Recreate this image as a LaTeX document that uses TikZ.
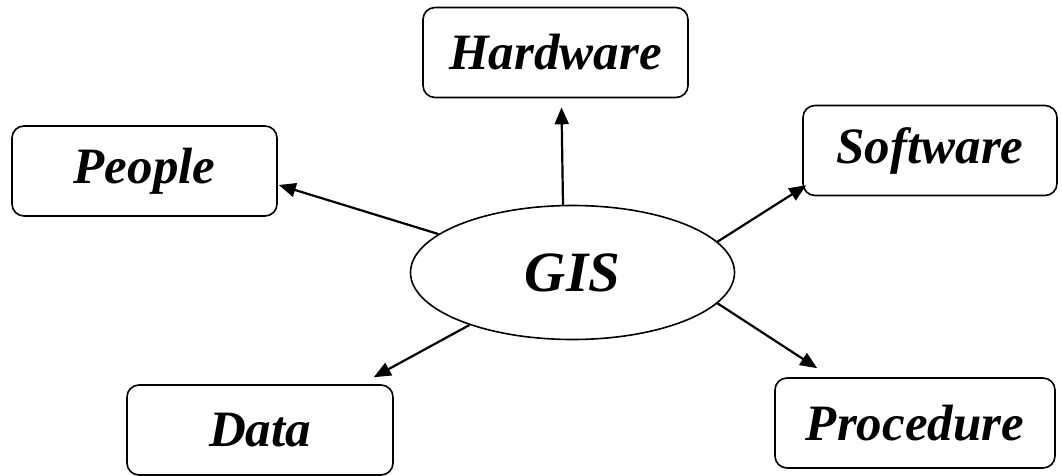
\documentclass[tikz,border=0pt]{standalone}
\usepackage{fontspec}
\setmainfont{Liberation Serif}
\usetikzlibrary{calc,arrows.meta,shapes.geometric}
\begin{document}
\begin{tikzpicture}[x=1pt,y=-1pt,
  box/.style={draw,line width=1.6pt,rounded corners=12pt,minimum height=90pt,inner sep=0pt,
    font=\fontsize{51}{55}\selectfont\bfseries\itshape},
  conn/.style={line width=2.2pt,-{Triangle[length=17pt,width=14pt]}}]
\useasboundingbox (0,0) rectangle (1062,476);
\node[box,minimum width=265pt] (hardware) at (555.5,52.5) {Hardware};
\node[box,minimum width=265pt] (people) at (144.5,171) {People};
\node[box,minimum width=254pt] (software) at (930,150.5) {Software};
\node[box,minimum width=266pt] (data) at (260,430) {Data};
\node[box,minimum width=280pt] (procedure) at (915,423) {Procedure};
\node[draw,ellipse,line width=1.6pt,minimum width=324pt,minimum height=134pt,inner sep=0pt,
  font=\fontsize{57}{60}\selectfont\bfseries\itshape] (gis) at (572.5,272.5) {GIS};
\draw[conn] (gis.98.5) -- ($(hardware.south)+(6,9)$);
\draw[conn] (gis.164.3) -- ($(people.east)+(1,14)$);
\draw[conn] (gis.12.4) -- ($(software.south west)+(4,-11)$);
\draw[conn] (gis.-12) -- ($(procedure.north west)+(43,-9)$);
\draw[conn] (gis.207) -- ($(data.north east)+(-20,-7)$);
\end{tikzpicture}
\end{document}
